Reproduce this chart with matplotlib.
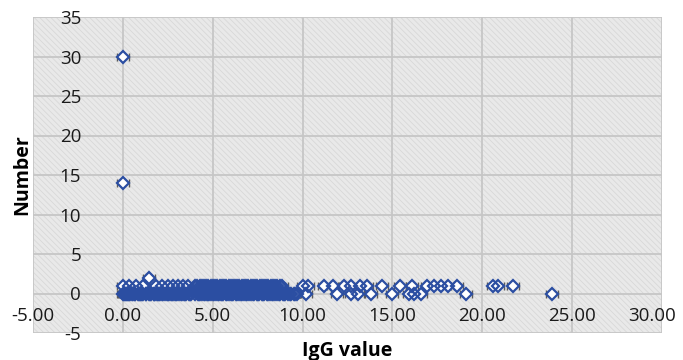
import matplotlib
matplotlib.use("Agg")
from matplotlib import pyplot as plt
from matplotlib.patches import Rectangle
from matplotlib.transforms import ScaledTranslation

# IgG value of each sample, grouped by the "Number" value it is plotted at
# (kept in sheet order, not sorted)
igg_at_0 = [3.27, 0.12, 6.58, 8.90, 1.44, 5.06, 2.37, 7.73, 0.55, 4.42, 9.36, 1.97,
            6.01, 3.80, 8.17, 0.31, 5.60, 2.78, 7.15, 4.93, 1.10, 9.05, 6.86, 0.02,
            3.52, 8.46, 2.08, 5.33, 7.44, 1.71, 4.18, 6.30, 0.85, 9.70, 2.56, 5.88,
            3.01, 8.60, 1.27, 7.00, 4.68, 0.40, 6.15, 2.90, 8.02, 1.80, 5.20, 3.66,
            9.20, 0.70, 7.58, 4.30, 2.17, 6.72, 1.52, 8.31, 0.05, 5.47, 3.15, 7.29,
            1.02, 4.80, 6.44, 2.45, 9.52, 0.93, 5.74, 3.40, 7.88, 1.88, 4.55, 0.25,
            8.75, 2.66, 10.20, 6.37, 0.16, 8.09, 2.96, 5.54, 1.31, 7.51, 4.24, 9.28,
            0.66, 3.73, 6.93, 2.22, 8.67, 1.06, 5.00, 3.21, 7.80, 0.36, 4.74, 9.60,
            2.50, 6.08, 1.57, 8.38, 3.99, 5.27, 0.89, 7.22, 2.02, 4.49, 6.65, 1.76,
            8.97, 3.46, 5.81, 0.50, 2.72, 11.90, 12.70, 13.10, 13.80, 15.00, 15.90,
            16.20, 16.60, 19.10, 23.90]
igg_at_1 = [0.00, 0.33, 0.72, 1.10, 1.83, 2.20, 2.50, 2.80, 3.05, 3.33, 3.60,
            6.25, 4.51, 8.10, 5.38, 7.24, 4.02, 6.87, 8.60, 5.01, 7.73, 4.76, 6.12,
            8.35, 5.63, 7.48, 4.27, 6.62, 8.85, 5.26, 7.98, 4.63, 6.37, 8.23, 5.88,
            7.11, 4.14, 6.99, 8.47, 5.13, 7.61, 4.88, 6.49, 8.72, 5.50, 7.36, 4.39,
            6.74, 5.75, 7.86, 6.00, 10.00, 10.30, 11.20, 11.70, 12.30, 12.70, 13.20,
            13.60, 14.40, 15.40, 16.10, 16.90, 17.30, 17.70, 18.10, 18.60, 20.60,
            20.90, 21.70]
igg_at_2 = [1.45]
igg_at_14 = [0.00]
igg_at_30 = [0.00]

x_ticks = [-5, 0, 5, 10, 15, 20, 25, 30]
y_ticks = [-5, 0, 5, 10, 15, 20, 25, 30, 35]

xs = igg_at_0 + igg_at_1 + igg_at_2 + igg_at_14 + igg_at_30
ys = ([0] * len(igg_at_0) + [1] * len(igg_at_1) + [2] * len(igg_at_2)
      + [14] * len(igg_at_14) + [30] * len(igg_at_30))

plt.rcParams['font.family'] = ['Open Sans', 'DejaVu Sans']
plt.rcParams['hatch.linewidth'] = 0.6

fig = plt.figure(figsize=(6.83, 3.6), dpi=100)
ax = fig.add_axes([33 / 683, 27 / 360, 629 / 683, 316 / 360])
ax.set_xlim(-5, 30)
ax.set_ylim(-5, 35)

# Excel-like hatched plot background
ax.set_facecolor('#e9e9e9')
ax.add_patch(Rectangle((0, 0), 1, 1, transform=ax.transAxes, facecolor='none',
                       edgecolor='#d8d8d8', hatch='\\\\\\\\\\\\', lw=0, zorder=0))

ax.set_xticks(x_ticks)
ax.set_yticks(y_ticks)
ax.set_xticklabels(['%.2f' % v for v in x_ticks])
ax.set_yticklabels(['%d' % v for v in y_ticks])
ax.grid(True, color='#c6c6c6', lw=1.3)
ax.set_axisbelow(True)

# axes cross at zero, like the spreadsheet chart
for side in ['left', 'bottom']:
    ax.spines[side].set_position(('data', 0))
for side in ax.spines:
    ax.spines[side].set_visible(False)
ax.tick_params(axis='both', length=0, labelsize=13.5, colors='#1a1a1a')
ax.tick_params(axis='y', pad=30)
ax.tick_params(axis='x', pad=10)

# keep the last x label inside the figure
last = ax.get_xticklabels()[-1]
last.set_transform(last.get_transform() + ScaledTranslation(-10 / 100, 0, fig.dpi_scale_trans))

# error bar caps, then white marker fills, then blue outlines on top
ax.errorbar(xs, ys, xerr=0.33, fmt='none', ecolor='#5a5a5a', elinewidth=1,
            capsize=3, capthick=1, zorder=3, clip_on=False)
ax.plot(xs, ys, 'D', ms=6, mfc='white', mec='none', zorder=4, clip_on=False)
ax.plot(xs, ys, 'D', ms=6, mfc='none', mec='#2b4ea2', mew=1.6, zorder=5,
        clip_on=False)

fig.text(347 / 683, 1 - 351 / 360, 'IgG value', ha='center', va='center',
         fontsize=14, fontweight='bold')
fig.text(22 / 683, 1 - 175 / 360, 'Number', ha='center', va='center',
         rotation=90, fontsize=14, fontweight='bold')

fig.savefig('out.png', dpi=100)
